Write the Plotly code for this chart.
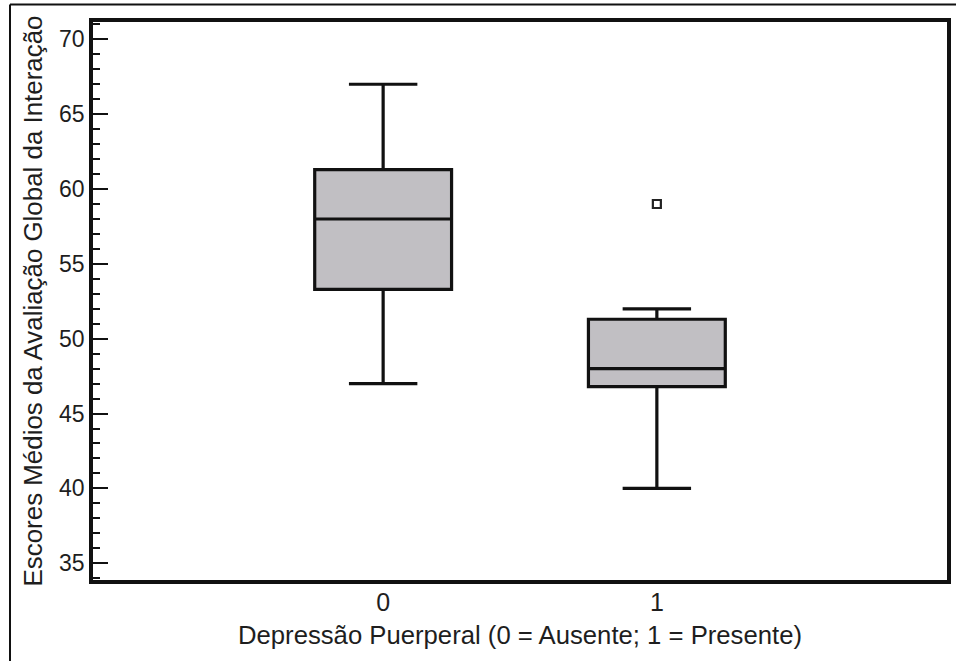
import plotly.graph_objects as go

# Data
groups = [0, 1]
group_labels = ["0", "1"]
q1 = [53.3, 46.8]
median = [58.0, 48.0]
q3 = [61.3, 51.3]
lower = [47.0, 40.0]
upper = [67.0, 52.0]
outlier_x = [1]
outlier_y = [59.0]

y_ticks = [35, 40, 45, 50, 55, 60, 65, 70]

FONT = "Liberation Sans, Arial, sans-serif"
TXT = "#1e1e1e"

fig = go.Figure()
fig.add_trace(go.Box(
    x=groups, q1=q1, median=median, q3=q3,
    lowerfence=lower, upperfence=upper,
    boxpoints=False, width=0.5, whiskerwidth=0.5,
    fillcolor="#c1bfc3",
    line=dict(color="#111111", width=3.2),
    showlegend=False, hoverinfo="skip",
))
fig.add_trace(go.Scatter(
    x=outlier_x, y=outlier_y, mode="markers",
    marker=dict(symbol="square-open", size=8, color="#222222", line=dict(width=2.2, color="#222222")),
    showlegend=False,
))

L, R, T, B = 93, 9, 22, 81
W, H = 956, 661
pw, ph = W - L - R, H - T - B

fig.update_layout(
    width=W, height=H,
    margin=dict(l=L, r=R, t=T, b=B, autoexpand=False),
    paper_bgcolor="white", plot_bgcolor="white",
    font=dict(family=FONT, color=TXT),
    xaxis=dict(
        range=[-1.06, 2.06], tickvals=groups, ticktext=group_labels,
        showgrid=False, zeroline=False, showline=True, linecolor="#111111", linewidth=3.5, mirror=True,
        ticks="", ticklabelstandoff=-3, tickfont=dict(size=25, family=FONT, color=TXT),
        title=dict(text="Depressão Puerperal (0 = Ausente; 1 = Presente)", font=dict(size=25.7, family=FONT, color=TXT), standoff=12),
    ),
    yaxis=dict(
        range=[33.88, 71.16], tickvals=y_ticks,
        showgrid=False, zeroline=False, showline=True, linecolor="#111111", linewidth=3.5, mirror=True,
        ticks="inside", ticklen=15, tickwidth=2, tickcolor="#111111",
        minor=dict(ticks="inside", ticklen=7, tickwidth=2, tickcolor="#111111", dtick=1, showgrid=False),
        tickfont=dict(size=23, family=FONT, color=TXT),
        title=dict(text="Escores Médios da Avaliação Global da Interação", font=dict(size=25.9, family=FONT, color=TXT), standoff=10),
    ),
)

# outer frame lines (left and top)
x_left = (10 - L) / pw
y_top = (H - B - 4.5) / ph
fig.add_shape(type="line", xref="paper", yref="paper", x0=x_left, x1=x_left, y0=(H - B - 661) / ph, y1=y_top,
              line=dict(color="#111111", width=2))
fig.add_shape(type="line", xref="paper", yref="paper", x0=x_left, x1=(W - L) / pw, y0=y_top, y1=y_top,
              line=dict(color="#111111", width=2))

fig.write_html("out.html")
